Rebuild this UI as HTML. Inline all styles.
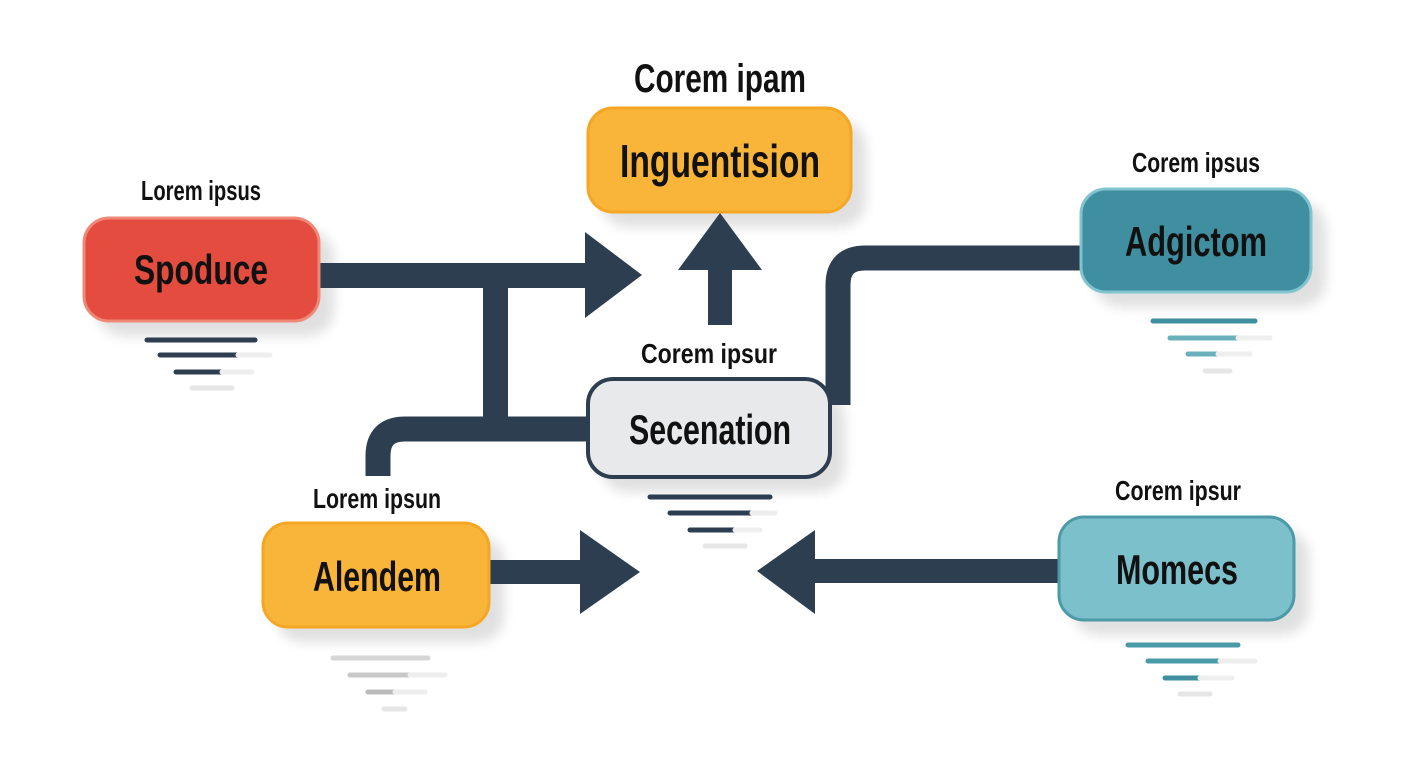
<!DOCTYPE html>
<html><head><meta charset="utf-8"><style>
html,body{margin:0;padding:0;background:#fff;width:1408px;height:768px;overflow:hidden}
text{font-family:"Liberation Sans Narrow","Liberation Sans",sans-serif;font-weight:bold;fill:#111;text-anchor:middle}
</style></head><body>
<svg width="1408" height="768" viewBox="0 0 1408 768" xmlns="http://www.w3.org/2000/svg">
<defs><filter id="sh" x="-20%" y="-20%" width="150%" height="160%"><feGaussianBlur stdDeviation="6"/></filter></defs>
<!-- shadows -->
<g fill="#000" opacity="0.12" filter="url(#sh)">
<rect x="97" y="231" width="237" height="105" rx="26"/>
<rect x="601" y="121" width="265" height="106" rx="26"/>
<rect x="1094" y="202" width="232" height="105" rx="26"/>
<rect x="601" y="392" width="244" height="100" rx="26"/>
<rect x="276" y="536" width="228" height="106" rx="26"/>
<rect x="1072" y="530" width="237" height="105" rx="26"/>
</g>
<!-- connectors -->
<g fill="#2c3e50" stroke="none">
<rect x="318" y="263" width="272" height="25"/>
<polygon points="585,232 642,275 585,318"/>
<rect x="483" y="275" width="25" height="155"/>
<rect x="708" y="262" width="24" height="63"/>
<polygon points="678,270 720,213 762,270"/>
<rect x="490" y="560" width="95" height="24"/>
<polygon points="580,530 640,572 580,614"/>
<rect x="812" y="559" width="248" height="24"/>
<polygon points="815,530 757,571 815,614"/>
</g>
<g fill="none" stroke="#2c3e50" stroke-width="25">
<path d="M590,429 H405 Q378,429 378,456 V476"/>
<path d="M838,405 V285 Q838,258 865,258 H1085"/>
</g>
<!-- boxes -->
<rect x="84" y="218" width="235" height="103" rx="25" fill="#e34c3f" stroke="#f08878" stroke-width="3"/>
<rect x="588" y="108" width="263" height="104" rx="25" fill="#f9b53a" stroke="#f5a623" stroke-width="3"/>
<rect x="1081" y="189" width="230" height="103" rx="25" fill="#3f8fa0" stroke="#80c4cf" stroke-width="3"/>
<rect x="588" y="379" width="242" height="98" rx="25" fill="#e8e9ea" stroke="#2c3e50" stroke-width="4"/>
<rect x="263" y="523" width="226" height="104" rx="25" fill="#f9b53a" stroke="#f5a623" stroke-width="3"/>
<rect x="1059" y="517" width="235" height="103" rx="25" fill="#7cc0cb" stroke="#4a9aa8" stroke-width="3"/>
<!-- labels -->
<text x="720" y="92" font-size="40" textLength="172" lengthAdjust="spacingAndGlyphs">Corem ipam</text>
<text x="201" y="200" font-size="28" textLength="120" lengthAdjust="spacingAndGlyphs">Lorem ipsus</text>
<text x="1196" y="172" font-size="28" textLength="128" lengthAdjust="spacingAndGlyphs">Corem ipsus</text>
<text x="709" y="363" font-size="28" textLength="136" lengthAdjust="spacingAndGlyphs">Corem ipsur</text>
<text x="377" y="508" font-size="28" textLength="128" lengthAdjust="spacingAndGlyphs">Lorem ipsun</text>
<text x="1178" y="500" font-size="28" textLength="126" lengthAdjust="spacingAndGlyphs">Corem ipsur</text>
<text x="201" y="284" font-size="42" textLength="134" lengthAdjust="spacingAndGlyphs">Spoduce</text>
<text x="720" y="177" font-size="46" textLength="200" lengthAdjust="spacingAndGlyphs">Inguentision</text>
<text x="1196" y="256" font-size="42" textLength="142" lengthAdjust="spacingAndGlyphs">Adgictom</text>
<text x="710" y="444" font-size="42" textLength="162" lengthAdjust="spacingAndGlyphs">Secenation</text>
<text x="377" y="591" font-size="42" textLength="128" lengthAdjust="spacingAndGlyphs">Alendem</text>
<text x="1177" y="584" font-size="42" textLength="122" lengthAdjust="spacingAndGlyphs">Momecs</text>
<!-- bars -->
<g stroke-linecap="round" stroke-width="5">
<line x1="147" y1="340" x2="255" y2="340" stroke="#2c3e50"/>
<line x1="160" y1="355" x2="238" y2="355" stroke="#2c3e50"/><line x1="238" y1="355" x2="270" y2="355" stroke="#eee"/>
<line x1="176" y1="372" x2="222" y2="372" stroke="#2c3e50"/><line x1="222" y1="372" x2="252" y2="372" stroke="#eee"/>
<line x1="192" y1="388" x2="232" y2="388" stroke="#e6e6e6"/>
<line x1="650" y1="497" x2="770" y2="497" stroke="#2c3e50"/>
<line x1="670" y1="513" x2="752" y2="513" stroke="#2c3e50"/><line x1="752" y1="513" x2="775" y2="513" stroke="#eee"/>
<line x1="690" y1="530" x2="735" y2="530" stroke="#2c3e50"/><line x1="735" y1="530" x2="760" y2="530" stroke="#eee"/>
<line x1="705" y1="546" x2="745" y2="546" stroke="#e6e6e6"/>
<line x1="1153" y1="321" x2="1255" y2="321" stroke="#3f8fa0"/>
<line x1="1170" y1="338" x2="1238" y2="338" stroke="#6ab0bc"/><line x1="1238" y1="338" x2="1270" y2="338" stroke="#eee"/>
<line x1="1188" y1="354" x2="1218" y2="354" stroke="#6ab0bc"/><line x1="1218" y1="354" x2="1250" y2="354" stroke="#eee"/>
<line x1="1205" y1="371" x2="1230" y2="371" stroke="#e6e6e6"/>
<line x1="333" y1="658" x2="428" y2="658" stroke="#d6d6d6"/>
<line x1="350" y1="675" x2="410" y2="675" stroke="#c8c8c8"/><line x1="410" y1="675" x2="445" y2="675" stroke="#eee"/>
<line x1="368" y1="692" x2="395" y2="692" stroke="#bbb"/><line x1="395" y1="692" x2="425" y2="692" stroke="#eee"/>
<line x1="384" y1="709" x2="405" y2="709" stroke="#e6e6e6"/>
<line x1="1128" y1="645" x2="1238" y2="645" stroke="#4a9aa8"/>
<line x1="1148" y1="661" x2="1220" y2="661" stroke="#4a9aa8"/><line x1="1220" y1="661" x2="1255" y2="661" stroke="#eee"/>
<line x1="1165" y1="678" x2="1200" y2="678" stroke="#3f8fa0"/><line x1="1200" y1="678" x2="1232" y2="678" stroke="#eee"/>
<line x1="1180" y1="694" x2="1210" y2="694" stroke="#e6e6e6"/>
</g>
</svg>
</body></html>
